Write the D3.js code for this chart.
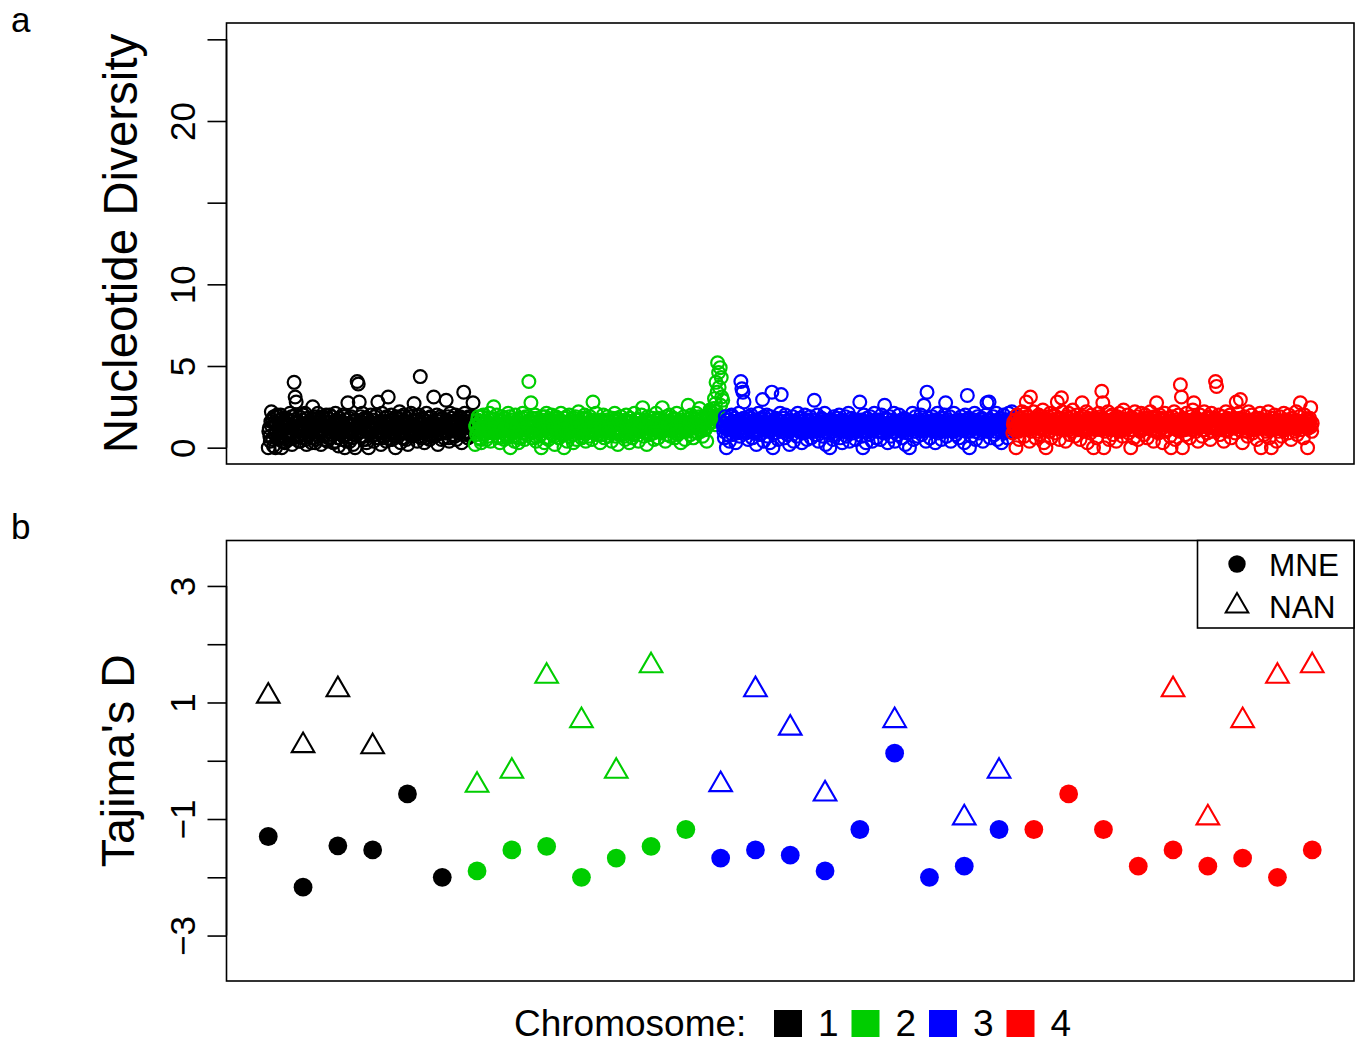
<!DOCTYPE html>
<html>
<head>
<meta charset="utf-8">
<script src="https://cdn.jsdelivr.net/npm/d3@7"></script>
<style>
  html, body { margin: 0; padding: 0; background: #fff; }
  svg { display: block; font-family: "Liberation Sans", Arial, Helvetica, sans-serif; }
</style>
</head>
<body>
<svg id="chart" width="1361" height="1044"></svg>
<script>
// ---------------- DATA ----------------
const chromosomes = ["1", "2", "3", "4"];
const chromColors = ["#000000", "#00CD00", "#0000FF", "#FF0000"];

// Panel a: nucleotide diversity per window, one array per chromosome (genome order)
const piChr1 = [
  0,1.0,1.2,.7,.4,1.6,2.2,1.3,1.7,.5,.1,1.9,1.5,.8,0,1.4,.9,2.0,1.9,.6,
  1.3,.9,.6,1.5,2.0,1.1,0,.4,1.1,1.8,1.6,.7,.3,1.2,1.8,.5,.8,1.7,1.4,1.0,
  .5,1.4,2.1,.8,1.0,1.9,.2,1.2,1.7,.6,4.0,1.5,3.1,2.0,2.8,1.0,.7,1.6,1.2,.4,
  1.9,.7,.4,1.3,1.5,.9,1.0,1.7,2.0,1.2,.6,2.1,1.3,.5,.2,1.4,1.8,.8,1.1,1.6,
  .8,1.5,1.6,1.0,.3,1.8,2.5,.6,1.2,1.4,1.9,.3,.5,1.7,1.4,1.1,2.1,.7,.9,1.3,
  1.7,.9,.2,1.4,1.1,1.9,1.8,1.0,.7,1.6,1.3,.5,2.0,1.2,.4,1.8,1.5,.6,1.0,2.0,
  .6,1.3,1.9,.8,1.2,1.5,.3,1.1,1.6,.4,2.1,1.7,.9,1.0,1.4,.6,.1,1.2,1.8,1.5,
  1.1,1.6,.5,1.2,2.0,.7,1.3,1.9,0,1.0,1.7,.4,.8,1.4,2.75,1.1,1.5,1.8,.4,.9,
  1.9,.6,1.0,1.4,.2,1.1,1.6,.8,0,1.7,1.2,1.3,4.05,.9,3.9,1.5,2.8,1.2,.7,1.9,
  1.4,1.0,2.1,.7,.5,1.5,1.8,1.2,1.1,.5,.3,1.8,1.7,1.3,0,.9,1.3,1.6,2.0,1.1,
  .9,1.7,1.5,1.1,.4,.8,1.9,1.4,1.2,2.0,.6,1.0,2.8,.6,1.0,1.6,1.6,1.2,.2,.9,
  2.1,1.2,1.3,.6,.7,1.6,1.8,1.0,.4,1.9,1.5,.8,3.1,1.4,1.1,.5,.9,1.7,2.0,1.3,
  .5,1.0,1.7,1.4,1.2,.7,0,1.8,1.9,1.1,.8,1.5,1.4,.9,2.2,1.3,.3,1.9,1.6,.6,
  1.0,1.5,2.0,.9,.6,1.2,1.3,.5,1.8,1.6,.2,1.1,1.5,1.9,1.1,.8,2.1,1.4,.7,1.0,
  1.4,.8,2.7,1.3,.9,1.6,1.7,1.0,.4,1.9,1.2,.7,2.0,1.4,4.35,1.1,.6,1.5,1.8,.9,
  1.1,1.7,.3,1.2,1.6,.6,2.1,1.4,.8,1.0,1.3,1.8,.5,1.3,1.9,.7,1.0,1.6,1.5,1.1,
  3.1,1.0,.7,1.5,1.4,.8,2.0,1.2,.2,1.6,1.7,1.1,1.2,1.9,.9,.5,1.8,1.4,1.3,1.0,
  .6,1.3,1.5,.9,2.9,1.7,1.0,1.2,1.9,.6,.4,1.5,2.1,1.0,1.1,1.8,1.6,1.1,.8,1.4,
  1.3,.7,2.0,1.6,.5,1.1,1.7,1.4,1.2,.9,.9,1.9,1.8,1.2,.3,1.5,1.4,.8,3.4,1.3,
  2.1,1.4,1.0,1.8,1.6,.9,.6,1.3,1.9,1.6,1.2,.7,.8,1.9,1.5,1.1,2.75,1.5,1.1,1.7
];
const piChr2 = [
  .2,1.3,1.4,.8,1.0,1.7,1.9,1.1,.6,1.5,1.6,.5,.3,1.9,1.2,1.0,2.0,1.4,.8,1.2,
  1.5,1.0,.5,1.6,1.8,.7,1.1,1.4,2.1,1.2,.4,1.8,1.3,.9,1.7,1.3,2.5,1.1,.9,1.5,
  1.2,.9,2.0,1.5,.7,1.3,1.6,.6,.3,1.7,1.4,1.1,1.9,1.4,1.0,1.8,.5,1.2,1.8,.8,
  1.1,1.6,.6,1.2,2.1,.8,1.3,1.9,0,1.0,1.7,1.4,.9,1.7,1.5,.7,.4,1.3,2.0,1.1,
  1.6,1.2,1.0,1.7,.3,1.0,1.8,.6,1.2,1.5,.7,1.3,2.1,.9,1.4,1.8,.5,1.1,1.9,1.4,
  .8,1.4,1.3,1.0,4.05,1.6,1.7,1.2,2.75,.9,.6,1.8,1.5,1.3,1.0,1.5,2.0,.7,.4,1.1,
  1.8,1.0,1.1,1.5,.7,1.3,1.6,.8,0,1.7,1.9,1.1,1.2,1.4,.3,1.9,1.5,.6,2.1,1.2,
  1.0,1.5,.5,1.2,1.7,.9,1.3,1.6,2.0,1.1,.8,1.4,1.4,.7,.2,1.3,1.9,1.0,1.1,1.8,
  1.6,1.1,.6,1.7,1.2,1.4,2.1,1.0,.9,1.6,1.5,.8,0,1.3,1.8,1.2,1.0,1.9,.4,1.5,
  1.3,.9,2.0,1.4,.7,1.2,1.7,1.5,1.1,.8,.3,1.8,1.6,1.0,1.9,1.3,.5,1.6,1.2,1.1,
  2.2,1.2,.9,1.6,1.4,1.0,.6,1.3,1.8,.7,1.0,1.5,2.0,1.1,.4,1.8,1.5,.9,1.3,1.4,
  .7,1.3,1.9,1.0,1.1,1.7,.5,1.4,2.8,1.1,1.6,.9,1.2,1.5,2.1,1.2,.8,1.6,1.4,1.0,
  1.0,1.4,.3,1.2,1.7,.8,1.3,1.6,2.0,1.0,.6,1.5,1.5,1.3,1.1,1.7,1.9,.7,.9,1.2,
  1.6,1.1,1.2,1.5,.4,1.3,1.8,.9,1.0,1.6,2.1,1.2,.7,1.8,1.4,1.0,.2,1.4,1.7,.8,
  1.1,1.5,1.9,1.0,.8,1.4,1.5,1.2,1.3,.7,.5,1.7,2.0,1.1,1.0,1.3,1.6,.9,.3,1.6,
  1.8,1.0,1.2,1.6,.6,1.3,1.4,.8,2.1,1.5,.9,1.2,1.7,1.0,1.1,1.7,.4,1.4,1.5,1.1,
  1.0,1.4,2.0,1.1,2.45,1.5,.7,1.3,1.6,.9,1.3,1.7,.2,1.2,1.9,1.0,1.2,1.6,.8,1.3,
  1.5,1.2,1.1,1.6,1.8,.9,.5,1.4,1.4,1.1,2.1,1.5,1.0,1.3,.6,1.8,1.7,1.0,1.3,1.2,
  .9,1.3,2.45,1.0,1.2,1.7,1.6,1.2,.4,1.5,1.9,.8,1.1,1.4,1.5,1.1,2.0,1.6,.7,1.3,
  1.4,1.1,1.0,1.5,1.8,1.2,.6,1.7,1.3,1.0,2.1,1.4,.8,1.6,1.6,.9,1.2,1.3,.3,1.5,
  1.7,1.3,1.1,1.6,1.9,1.0,.5,1.4,1.4,1.2,1.0,1.7,2.6,1.1,1.5,1.5,.8,1.8,2.0,1.2,
  1.2,1.5,.6,1.2,1.8,1.7,1.3,1.0,2.1,1.6,.9,1.3,1.6,1.9,2.4,1.4,1.0,1.1,1.4,1.8,
  .7,1.4,1.9,1.6,1.2,1.1,1.7,1.9,.4,1.3,2.0,1.7,1.5,2.0,2.3,1.5,2.2,1.8,1.8,2.1,
  1.6,2.4,1.9,3.0,1.4,2.7,4.0,2.2,3.4,5.2,2.0,4.6,3.7,1.8,4.9,2.6,4.3,3.1,1.5,2.9
];
const piChr3 = [
  1.3,1.0,.6,1.5,1.9,1.2,0,1.7,1.1,.8,1.7,1.4,.4,1.1,1.5,1.9,2.0,1.3,.8,1.6,
  1.2,1.5,1.8,1.1,.3,1.6,1.4,.9,1.0,1.3,2.1,1.7,.7,1.2,4.05,1.4,3.6,1.0,3.4,1.8,
  2.8,1.2,1.6,1.4,.9,1.7,1.3,1.0,.5,1.5,1.9,1.1,1.1,1.8,2.0,1.3,.6,1.6,1.5,.9,
  1.0,1.4,1.7,1.1,.2,1.6,1.4,1.3,2.1,1.0,.8,1.5,1.2,1.7,1.8,1.2,2.95,1.4,.4,1.9,
  1.6,1.2,1.1,1.5,2.0,1.0,.7,1.7,1.3,1.4,.3,1.1,1.9,1.3,3.4,1.6,0,.9,1.5,1.2,
  .9,1.5,1.8,1.3,1.2,1.7,.5,1.1,1.6,1.4,2.1,1.0,3.25,1.6,1.0,1.2,1.4,1.8,.6,1.3,
  2.0,1.1,1.3,1.6,.8,1.4,1.7,1.0,.2,1.7,1.5,1.3,1.1,1.5,1.9,1.2,.4,1.6,1.2,1.4,
  1.6,1.3,.7,1.5,2.1,1.1,1.0,1.8,1.4,1.2,1.8,1.4,.3,1.6,1.3,1.0,.9,1.7,2.0,1.2,
  1.1,1.4,.5,1.2,1.7,1.0,1.2,1.6,1.9,1.3,.6,1.7,1.5,1.1,1.0,1.5,2.9,1.2,.8,1.4,
  1.4,1.0,2.0,1.3,.4,1.5,1.6,1.2,1.1,1.7,1.8,1.1,.7,1.4,1.3,1.6,2.1,1.0,.2,1.5,
  1.0,1.6,1.5,1.2,.9,1.4,0,1.1,1.7,1.3,1.2,1.7,.5,1.0,1.9,1.5,1.4,1.2,.8,1.6,
  1.8,1.2,1.1,1.5,2.0,1.1,.6,1.4,1.3,1.7,.3,1.0,1.6,1.3,1.0,1.6,1.9,1.2,.7,1.4,
  1.2,1.5,2.1,1.0,.4,1.6,1.5,1.3,1.8,1.1,.9,1.4,1.4,1.7,1.1,1.2,.5,1.5,1.7,1.0,
  1.0,1.3,1.6,1.1,2.8,1.5,1.3,1.7,.7,1.2,0,1.4,2.0,1.0,1.2,1.6,.3,1.3,1.8,1.5,
  1.5,1.2,.8,1.4,1.9,1.0,1.1,1.6,.4,1.3,1.6,1.1,2.1,1.5,1.3,1.7,.6,1.2,1.0,1.4,
  1.7,1.4,1.2,1.6,.5,1.2,2.0,1.0,1.4,1.5,.9,1.3,2.6,1.1,1.8,1.4,1.1,1.7,.3,1.2,
  1.3,1.1,1.9,1.5,.7,1.3,1.5,1.7,1.0,1.2,2.1,1.0,.4,1.4,1.6,1.6,1.2,1.3,.8,1.5,
  2.0,1.3,1.1,1.6,1.7,1.0,.6,1.4,1.4,1.2,1.8,1.5,.2,1.7,1.3,1.1,.9,1.4,1.5,1.2,
  0,1.4,1.6,1.1,1.2,1.5,2.1,1.3,.5,1.6,1.0,1.2,1.9,1.0,1.4,1.5,.7,1.3,1.7,1.4,
  1.1,1.5,2.0,1.2,.8,1.4,1.5,1.0,2.6,1.7,1.3,1.3,.4,1.6,3.4,1.1,1.8,1.4,1.2,1.5,
  .6,1.2,1.4,1.5,1.9,1.1,1.0,1.3,1.7,1.6,.3,1.0,1.2,1.4,2.1,1.7,.9,1.2,1.6,1.3,
  1.3,1.4,.5,1.1,1.8,1.6,1.1,1.2,2.0,1.0,2.75,1.5,.7,1.3,1.5,1.7,1.2,1.4,1.9,1.1,
  .4,1.5,1.6,1.2,1.0,1.4,2.1,1.0,1.4,1.6,.8,1.3,1.7,1.1,1.2,1.5,.6,1.7,1.3,1.2,
  1.9,1.2,1.1,1.6,1.5,1.3,.3,1.1,2.0,1.5,1.0,1.4,3.2,1.7,1.8,1.2,0,1.0,1.4,1.5,
  .7,1.4,1.6,1.2,1.2,1.7,2.1,1.3,.5,1.0,1.3,1.6,1.9,1.2,.9,1.5,1.5,1.3,1.1,1.4,
  1.8,1.3,.4,1.5,1.4,1.1,1.0,1.6,2.0,1.2,2.75,1.4,1.7,1.0,2.8,1.3,.6,1.7,1.2,1.5,
  1.5,1.2,1.9,1.4,.8,1.6,1.3,1.0,2.1,1.3,.5,1.7,1.6,1.1,1.1,1.5,1.8,1.2,.3,1.4,
  1.2,1.5,2.0,1.1,.9,1.3,1.4,1.6,1.7,1.2,.6,1.4,2.1,1.7,1.0,1.3,1.5,1.6,2.2,1.8
];
const piChr4 = [
  .9,1.4,1.6,1.1,1.2,1.7,0,1.3,2.0,1.5,1.4,1.0,.5,1.6,1.8,1.2,1.1,1.8,2.2,1.4,
  1.5,1.2,.7,1.6,2.1,1.3,2.8,1.9,1.3,1.1,1.9,1.5,.4,1.4,3.1,1.7,1.0,1.2,1.7,1.6,
  2.2,1.5,1.2,1.3,.6,1.7,1.8,1.0,1.4,1.6,2.0,1.4,.8,1.9,1.5,1.2,1.1,1.5,2.3,1.8,
  .3,1.4,1.7,1.8,0,1.1,1.3,1.5,1.9,1.3,1.0,1.7,2.1,1.2,.6,1.6,1.6,1.4,1.2,1.9,
  2.0,1.3,.9,1.6,1.4,1.2,2.8,1.7,1.8,1.5,.5,1.4,1.3,1.8,3.05,1.1,2.2,1.6,1.1,1.3,
  1.6,1.2,.4,1.5,1.9,1.4,1.2,1.8,2.1,1.1,.8,1.6,1.5,1.3,1.0,1.9,2.3,1.4,1.7,1.2,
  .7,1.5,1.3,1.7,2.0,1.2,1.1,1.6,1.8,1.4,.5,1.8,1.4,1.1,2.75,1.5,1.9,1.3,1.0,1.6,
  1.6,1.3,2.2,1.5,.3,1.8,1.2,1.1,1.7,1.4,.9,1.6,2.0,1.2,1.4,1.7,0,1.5,1.8,1.3,
  1.1,1.6,.6,1.4,1.5,1.2,2.1,1.7,1.3,1.5,1.9,1.1,3.45,1.8,2.75,1.3,0,1.6,1.0,1.4,
  1.7,1.3,1.2,1.5,2.2,1.1,.5,1.6,1.6,1.9,1.4,1.2,2.0,1.4,.8,1.7,1.8,1.3,1.1,1.5,
  .4,1.5,1.9,1.2,1.3,1.6,2.1,1.4,1.0,1.8,1.5,1.3,.7,1.7,2.3,1.1,1.2,1.5,1.7,1.4,
  1.4,1.2,2.0,1.6,.9,1.4,1.6,1.8,0,1.3,1.1,1.5,1.8,1.1,.6,1.7,2.2,1.4,1.3,1.6,
  1.9,1.3,.5,1.7,1.5,1.2,1.0,1.5,2.1,1.4,1.7,1.1,1.2,1.6,.8,1.8,2.0,1.3,1.4,1.5,
  .6,1.4,1.8,1.2,1.3,1.7,2.2,1.5,1.1,1.3,1.6,1.8,.4,1.4,1.9,1.1,1.0,1.6,2.75,1.3,
  1.5,1.6,.9,1.3,2.0,1.4,1.2,1.8,1.7,1.2,.3,1.5,1.4,1.7,2.1,1.1,1.0,1.4,1.8,1.6,
  1.1,1.4,1.6,1.8,.7,1.3,0,1.5,1.9,1.2,1.3,1.6,2.2,1.4,.5,1.7,1.5,1.1,1.2,1.5,
  2.0,1.3,1.0,1.6,3.85,1.5,3.1,1.2,0,1.8,1.7,1.4,1.4,1.1,.8,1.7,2.1,1.3,1.3,1.6,
  1.6,1.2,.6,1.5,1.9,1.4,1.1,1.7,2.3,1.3,2.75,1.6,1.5,1.8,1.0,1.2,1.8,1.5,.4,1.4,
  1.2,1.5,2.0,1.3,1.4,1.6,.7,1.4,1.7,1.1,2.2,1.7,1.1,1.3,1.6,1.5,.9,1.8,1.9,1.2,
  1.3,1.6,.5,1.4,2.1,1.2,1.0,1.7,1.5,1.3,1.8,1.5,4.05,1.4,3.75,1.6,1.2,1.1,2.0,1.5,
  .8,1.4,1.6,1.2,1.1,1.5,1.9,1.3,.4,1.7,1.4,1.6,2.2,1.1,1.0,1.8,1.7,1.4,1.3,1.5,
  2.0,1.3,.6,1.6,1.5,1.4,1.2,1.7,1.8,1.2,.9,1.5,2.8,1.3,1.4,1.6,2.1,1.4,1.1,1.8,
  2.95,1.5,1.7,1.4,.3,1.6,1.3,1.2,1.9,1.5,1.0,1.7,1.6,1.3,.7,1.4,2.2,1.6,1.2,1.1,
  1.5,1.2,2.0,1.6,.9,1.4,1.4,1.5,1.1,1.7,1.8,1.3,.5,1.4,1.6,1.2,1.3,1.8,2.1,1.5,
  0,1.4,1.2,1.5,1.7,1.3,.8,1.6,1.9,1.2,1.0,1.7,1.5,1.4,2.2,1.1,.6,1.6,1.4,1.3,
  0,1.5,1.8,1.3,1.1,1.6,2.0,1.4,1.3,1.2,.4,1.7,1.6,1.3,1.0,1.5,1.9,1.4,1.2,1.6,
  .7,1.3,1.5,1.6,2.1,1.4,1.1,1.5,1.7,1.2,1.3,1.7,.9,1.4,2.0,1.3,1.4,1.6,.5,1.5,
  1.8,1.4,1.2,1.5,1.6,1.3,1.0,1.7,2.2,1.2,.8,1.6,1.4,1.5,1.9,1.4,2.75,1.3,1.1,1.6,
  1.5,1.6,.6,1.3,2.0,1.4,1.3,1.5,1.7,1.2,0,1.7,1.2,1.4,1.8,1.6,2.45,1.3,1.0,1.5
];
const piTicks = [0, 5, 10, 15, 20, 25];
const piTickLabels = ["0", "5", "10", "", "20", ""];

// Panel b: Tajima's D per region (31 regions) and the chromosome of each region
const regionChrom = [1,1,1,1,1,1, 2,2,2,2,2,2,2, 3,3,3,3,3,3,3,3,3, 4,4,4,4,4,4,4,4,4];
const tajimaMNE = [-1.30,-2.17,-1.46,-1.53,-0.57,-2.00,
  -1.89,-1.53,-1.47,-2.00,-1.67,-1.47,-1.18,
  -1.67,-1.53,-1.62,-1.89,-1.18,0.13,-2.00,-1.81,-1.18,
  -1.18,-0.57,-1.18,-1.81,-1.53,-1.81,-1.67,-2.00,-1.53];
const tajimaNAN = [1.11,0.26,1.22,0.24,null,null,
  -0.42,-0.18,1.45,0.69,-0.18,1.63,null,
  -0.41,1.22,0.56,-0.57,null,0.69,null,-0.98,-0.18,
  null,null,null,null,1.22,-0.98,0.69,1.45,1.63];
const tdTicks = [-3, -2, -1, 0, 1, 2, 3];
const tdTickLabels = ["\u22123", "", "\u22121", "", "1", "", "3"];
const popLabels = ["MNE", "NAN"];

// ---------------- LAYOUT ----------------
const svg = d3.select("#chart");
const FONT = '"Liberation Sans", Arial, Helvetica, sans-serif';
const box = { left: 226.5, right: 1354 };
const boxA = { top: 23, bottom: 464 };
const boxB = { top: 540.5, bottom: 981 };

// R-style 4% axis expansion
function expand(lo, hi) { const p = (hi - lo) * 0.04; return [lo - p, hi + p]; }

const xB = d3.scaleLinear().domain(expand(1, 31)).range([box.left, box.right]);
const yB = d3.scaleLinear().domain(expand(-3.5, 3.5)).range([boxB.bottom, boxB.top]);
const yA = d3.scaleLinear().domain(expand(0, 25)).range([boxA.bottom, boxA.top]);

const piSeries = [piChr1, piChr2, piChr3, piChr4];
const piPoints = [];
piSeries.forEach((arr, ci) => arr.forEach(v => piPoints.push({ c: ci, v })));
piPoints.forEach((p, i) => p.i = i);
const xA = d3.scaleLinear().domain([0, piPoints.length - 1]).range([xB(1), xB(31)]);

// ---------------- PANEL A ----------------
const gA = svg.append("g");
gA.append("g").selectAll("circle").data(piPoints).join("circle")
  .attr("cx", d => xA(d.i)).attr("cy", d => yA(d.v)).attr("r", 6.4)
  .attr("fill", "none").attr("stroke", d => chromColors[d.c]).attr("stroke-width", 2.2);

gA.append("rect").attr("x", box.left).attr("y", boxA.top)
  .attr("width", box.right - box.left).attr("height", boxA.bottom - boxA.top)
  .attr("fill", "none").attr("stroke", "#000").attr("stroke-width", 1.6);

const axA = gA.append("g").attr("transform", `translate(${box.left},0)`)
  .call(d3.axisLeft(yA).tickValues(piTicks).tickSize(19).tickSizeOuter(0)
    .tickFormat((d, i) => piTickLabels[i]));
axA.select(".domain").attr("d", `M0,${yA(0)}V${yA(25)}`).attr("stroke-width", 1.6);
axA.selectAll(".tick line").attr("stroke-width", 1.6);
axA.selectAll(".tick text").attr("x", 0).attr("y", 0).attr("dy", 0)
  .attr("transform", "translate(-32,0) rotate(-90)").attr("text-anchor", "middle")
  .attr("font-size", 35).attr("font-family", FONT).attr("fill", "#000");

svg.append("text").attr("transform", `translate(137,${(boxA.top + boxA.bottom) / 2}) rotate(-90)`)
  .attr("text-anchor", "middle").attr("font-size", 47.5).attr("font-family", FONT)
  .text("Nucleotide Diversity");
svg.append("text").attr("x", 11).attr("y", 32).attr("font-size", 35).attr("font-family", FONT).text("a");

// ---------------- PANEL B ----------------
const gB = svg.append("g");
const R0 = 8.4;
const triPath = `M0,${-1.5551 * R0}L${1.3468 * R0},${0.7776 * R0}L${-1.3468 * R0},${0.7776 * R0}Z`;

const mnePts = tajimaMNE.map((v, i) => ({ pos: i + 1, v, c: regionChrom[i] - 1 }));
const nanPts = tajimaNAN.map((v, i) => ({ pos: i + 1, v, c: regionChrom[i] - 1 })).filter(d => d.v !== null);

gB.append("g").selectAll("circle").data(mnePts).join("circle")
  .attr("cx", d => xB(d.pos)).attr("cy", d => yB(d.v)).attr("r", R0 + 1)
  .attr("fill", d => chromColors[d.c]);
gB.append("g").selectAll("path").data(nanPts).join("path")
  .attr("transform", d => `translate(${xB(d.pos)},${yB(d.v)})`).attr("d", triPath)
  .attr("fill", "none").attr("stroke", d => chromColors[d.c]).attr("stroke-width", 2.1);

gB.append("rect").attr("x", box.left).attr("y", boxB.top)
  .attr("width", box.right - box.left).attr("height", boxB.bottom - boxB.top)
  .attr("fill", "none").attr("stroke", "#000").attr("stroke-width", 1.6);

const axB = gB.append("g").attr("transform", `translate(${box.left},0)`)
  .call(d3.axisLeft(yB).tickValues(tdTicks).tickSize(19).tickSizeOuter(0)
    .tickFormat((d, i) => tdTickLabels[i]));
axB.select(".domain").attr("d", `M0,${yB(-3)}V${yB(3)}`).attr("stroke-width", 1.6);
axB.selectAll(".tick line").attr("stroke-width", 1.6);
axB.selectAll(".tick text").attr("x", 0).attr("y", 0).attr("dy", 0)
  .attr("transform", "translate(-32,0) rotate(-90)").attr("text-anchor", "middle")
  .attr("font-size", 35).attr("font-family", FONT).attr("fill", "#000");

svg.append("text").attr("transform", `translate(134,${(boxB.top + boxB.bottom) / 2}) rotate(-90)`)
  .attr("text-anchor", "middle").attr("font-size", 46.5).attr("font-family", FONT)
  .text("Tajima's D");
svg.append("text").attr("x", 11).attr("y", 539).attr("font-size", 35).attr("font-family", FONT).text("b");

// legend (top-right)
const lg = gB.append("g");
lg.append("rect").attr("x", 1197.5).attr("y", boxB.top).attr("width", box.right - 1197.5).attr("height", 87.5)
  .attr("fill", "#fff").attr("stroke", "#000").attr("stroke-width", 1.6);
lg.append("circle").attr("cx", 1237).attr("cy", 564).attr("r", R0 + 0.3).attr("fill", "#000");
lg.append("path").attr("transform", "translate(1237,606)").attr("d", triPath)
  .attr("fill", "none").attr("stroke", "#000").attr("stroke-width", 2);
lg.selectAll("text").data(popLabels).join("text")
  .attr("x", 1269).attr("y", (d, i) => 576 + i * 42)
  .attr("font-size", 31.5).attr("font-family", FONT).text(d => d);

// ---------------- BOTTOM LEGEND ----------------
const bl = svg.append("g");
bl.append("text").attr("x", 514).attr("y", 1036).attr("font-size", 37).attr("font-family", FONT).text("Chromosome:");
const legStep = 77.5;
const leg = bl.selectAll("g.item").data(chromosomes).join("g").attr("class", "item")
  .attr("transform", (d, i) => `translate(${774 + i * legStep},0)`);
leg.append("rect").attr("x", 0).attr("y", 1010).attr("width", 28).attr("height", 27)
  .attr("fill", (d, i) => chromColors[i]);
leg.append("text").attr("x", 44).attr("y", 1036).attr("font-size", 37).attr("font-family", FONT).text(d => d);
</script>
</body>
</html>
